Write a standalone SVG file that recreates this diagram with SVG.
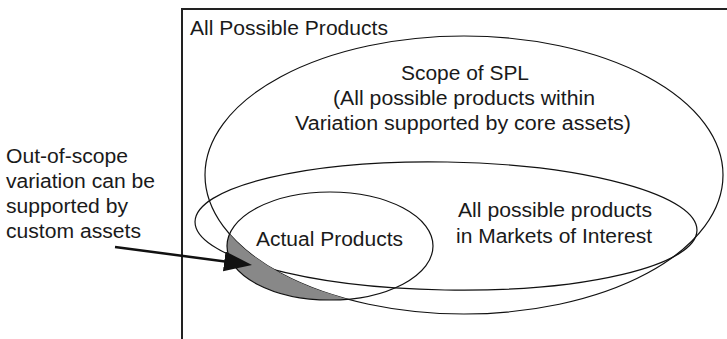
<svg xmlns="http://www.w3.org/2000/svg" width="727" height="339" viewBox="0 0 727 339">
<style>
.t{font-family:"Liberation Sans",Arial,Helvetica,sans-serif;font-size:20px;fill:#1a1a1a}
.m{text-anchor:middle}
.ol{fill:none;stroke:#111;stroke-width:1.2}
</style>
<defs>
<mask id="outsideSPL" maskUnits="userSpaceOnUse" x="0" y="0" width="727" height="339">
<rect x="0" y="0" width="727" height="339" fill="#fff"/>
<ellipse cx="464" cy="175" rx="259" ry="139" fill="#000"/>
</mask>
<marker id="arrowhead" markerUnits="userSpaceOnUse" markerWidth="30" markerHeight="22" refX="18" refY="10" orient="auto">
<path d="M0,0 L28,10 L0,20 Z" fill="#111"/>
</marker>
</defs>
<g id="all-possible-products">
<rect x="182" y="9" width="600" height="400" fill="none" stroke="#222" stroke-width="2"/>
<text class="t" x="190" y="35" textLength="198" lengthAdjust="spacingAndGlyphs">All Possible Products</text>
</g>
<g id="scope-of-spl">
<ellipse class="ol" cx="464" cy="175" rx="259" ry="139"/>
<text class="t m" x="465" y="80" textLength="128" lengthAdjust="spacingAndGlyphs">Scope of SPL</text>
<text class="t m" x="464" y="105" textLength="262" lengthAdjust="spacingAndGlyphs">(All possible products within</text>
<text class="t m" x="463" y="130" textLength="336" lengthAdjust="spacingAndGlyphs">Variation supported by core assets)</text>
</g>
<g id="markets-of-interest">
<ellipse class="ol" cx="446" cy="226" rx="251" ry="64" transform="rotate(1 446 226)"/>
<text class="t m" x="555" y="217" textLength="194" lengthAdjust="spacingAndGlyphs">All possible products</text>
<text class="t m" x="554" y="243" textLength="196" lengthAdjust="spacingAndGlyphs">in Markets of Interest</text>
</g>
<g id="actual-products">
<ellipse cx="330" cy="246" rx="103" ry="54" fill="#888" mask="url(#outsideSPL)"/>
<ellipse class="ol" cx="330" cy="246" rx="103" ry="54"/>
<text class="t m" x="329.5" y="246" textLength="147" lengthAdjust="spacingAndGlyphs">Actual Products</text>
</g>
<g id="custom-assets-note">
<text class="t" x="6" y="163" textLength="122" lengthAdjust="spacingAndGlyphs">Out-of-scope</text>
<text class="t" x="6" y="188" textLength="149" lengthAdjust="spacingAndGlyphs">variation can be</text>
<text class="t" x="6" y="213" textLength="122" lengthAdjust="spacingAndGlyphs">supported by</text>
<text class="t" x="6" y="238" textLength="135" lengthAdjust="spacingAndGlyphs">custom assets</text>
</g>
<g id="connectors">
<line x1="115" y1="247" x2="242.1" y2="263.7" stroke="#111" stroke-width="2.5" marker-end="url(#arrowhead)"/>
</g>
</svg>
